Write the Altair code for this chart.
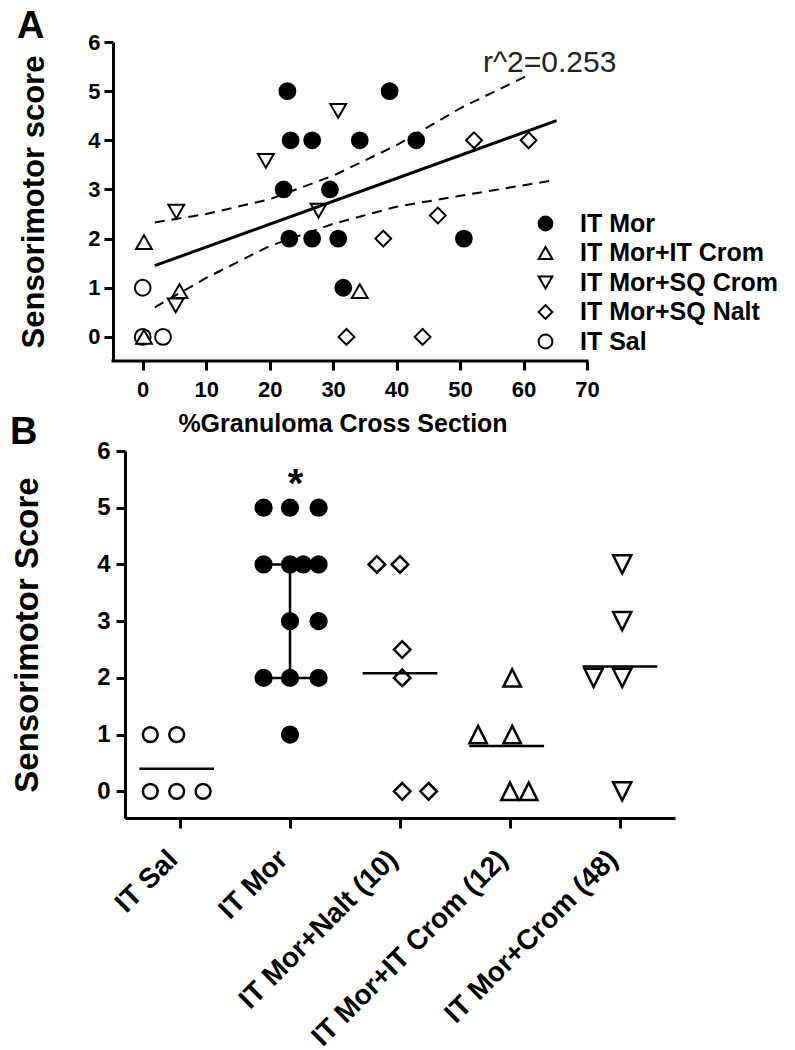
import json
import altair as alt
import pandas as pd

FONT = "Liberation Sans"

# ---------------- Panel A data (scatter) ----------------
groups_A = ["IT Mor", "IT Mor+IT Crom", "IT Mor+SQ Crom", "IT Mor+SQ Nalt", "IT Sal"]
shapes_A = ["circle", "triangle-up", "triangle-down", "diamond", "circle"]
fills_A = ["black", "white", "white", "white", "white"]
strokes_A = ["black", "black", "black", "black", "black"]

sal_x = [0.0, 0.0, 3.2]
sal_y = [1, 0, 0]
nalt_x = [37.9, 32.1, 52.2, 60.8, 46.5, 44.1]
nalt_y = [2, 0, 4, 4, 2.47, 0]
sqcrom_x = [19.4, 5.3, 30.8, 27.7, 5.2]
sqcrom_y = [3.58, 2.55, 4.6, 2.57, 0.64]
itcrom_x = [0.2, 0.2, 5.8, 34.2]
itcrom_y = [1.93, 0.0, 0.93, 0.93]
mor_x = [22.8, 38.9, 23.3, 26.7, 34.2, 43.1, 22.2, 29.5, 23.1, 26.7, 30.8, 50.6, 31.6]
mor_y = [5, 5, 4, 4, 4, 4, 3, 3, 2, 2, 2, 2, 1]

fit_x = [1.9, 65.2]
fit_y = [1.45, 4.4]
upper_x = [1.9, 10, 20, 30, 40, 50, 60.5]
upper_y = [2.33, 2.5, 2.8, 3.28, 3.9, 4.65, 5.31]
lower_x = [1.9, 10, 20, 30, 40, 50, 64.4]
lower_y = [0.6, 1.2, 1.85, 2.3, 2.65, 2.87, 3.18]
r2_label = "r^2=0.253"

xticks_A = [0, 10, 20, 30, 40, 50, 60, 70]
yticks = [0, 1, 2, 3, 4, 5, 6]

# ---------------- Panel B data (dot plot) ----------------
cats_B = ["IT Sal", "IT Mor", "IT Mor+Nalt (10)", "IT Mor+IT Crom (12)", "IT Mor+Crom (48)"]
shapes_B = ["circle", "circle", "diamond", "M0,-1L1,1L-1,1Z", "M-1,-1L1,-1L0,1Z"]
fills_B = ["white", "black", "white", "white", "white"]
sizes_B = [220, 330, 380, 600, 310]

b_sal_score = [0, 0, 0, 1, 1]
b_sal_dx = [-0.27, -0.03, 0.21, -0.27, -0.03]
b_mor_score = [5, 5, 5, 4, 4, 4, 4, 3, 3, 2, 2, 2, 1]
b_mor_dx = [-0.24, 0, 0.26, -0.24, 0, 0.12, 0.26, 0, 0.26, -0.24, 0, 0.26, 0]
b_nalt_score = [4, 4, 2.5, 2, 0, 0]
b_nalt_dx = [-0.21, 0, 0.02, 0.02, 0.02, 0.26]
b_itcrom_score = [2, 1, 1, 0, 0]
b_itcrom_dx = [0.02, -0.29, 0.02, 0, 0.17]
b_crom48_score = [4, 3, 2, 2, 0]
b_crom48_dx = [0.02, 0.02, -0.24, 0.02, 0.02]

mean_groups = [0, 2, 3, 4]
mean_values = [0.4, 2.08, 0.8, 2.2]
mean_dx = [-0.03, 0.0, -0.03, 0.0]
mor_q1, mor_q3 = 2, 4
star_group, star_y = 1.05, 5.19

# ---------------- build tables ----------------
rowsA = []
for g, xs, ys in [("IT Sal", sal_x, sal_y), ("IT Mor+SQ Nalt", nalt_x, nalt_y),
                  ("IT Mor+SQ Crom", sqcrom_x, sqcrom_y), ("IT Mor+IT Crom", itcrom_x, itcrom_y),
                  ("IT Mor", mor_x, mor_y)]:
    for xv, yv in zip(xs, ys):
        rowsA.append({"group": g, "pct": xv, "score": yv})
dfA = pd.DataFrame(rowsA)
df_fit = pd.DataFrame({"pct": fit_x, "score": fit_y})
df_band = pd.concat([
    pd.DataFrame({"pct": upper_x, "score": upper_y, "band": "upper"}),
    pd.DataFrame({"pct": lower_x, "score": lower_y, "band": "lower"}),
])

rowsB = []
for gi, sc, dx in [(0, b_sal_score, b_sal_dx), (1, b_mor_score, b_mor_dx), (2, b_nalt_score, b_nalt_dx),
                   (3, b_itcrom_score, b_itcrom_dx), (4, b_crom48_score, b_crom48_dx)]:
    for s, d in zip(sc, dx):
        rowsB.append({"cat": cats_B[gi], "pos": gi + d, "val": s})
dfB = pd.DataFrame(rowsB)
HALF_MEAN = 0.34
df_mean = pd.DataFrame({
    "x1": [g + d - HALF_MEAN for g, d in zip(mean_groups, mean_dx)],
    "x2": [g + d + HALF_MEAN for g, d in zip(mean_groups, mean_dx)],
    "val": mean_values,
})
df_whisk = pd.DataFrame({"pos": [1.0], "lo": [mor_q1], "hi": [mor_q3]})
HALF_CAP = 0.25
df_caps = pd.DataFrame({"x1": [1.01 - HALF_CAP] * 2, "x2": [1.01 + HALF_CAP] * 2, "val": [mor_q1, mor_q3]})

# ---------------- Panel A chart ----------------
W_A, H_A = 462, 319
xA = alt.Scale(domain=[-2.79, 70], nice=False, zero=False)
yA = alt.Scale(domain=[-0.49, 6], nice=False, zero=False)

axis_xA = alt.Axis(values=xticks_A, format="d", title="%Granuloma Cross Section", domain=False,
                   tickSize=9, labelFontSize=22, labelPadding=9,
                   titleFontSize=25, titleX=217.5, titleY=70, titleAlign="center",
                   titleBaseline="alphabetic")
axis_yA = alt.Axis(values=yticks, format="d", title="Sensorimotor score", offset=12,
                   tickSize=9, labelFontSize=22, labelPadding=4,
                   titleFontSize=31, titleX=-70, titleY=H_A / 2, titleAngle=270,
                   titleAlign="center", titleBaseline="alphabetic")

legA = alt.Legend(title=None, orient="none", legendX=408, legendY=169,
                  labelFont=FONT, labelFontSize=25, labelFontWeight="bold", labelColor="black",
                  labelLimit=0, symbolSize=190, symbolStrokeWidth=2, symbolStrokeColor="black",
                  rowPadding=3.5, labelOffset=22, padding=0)

ptsA = alt.Chart(dfA).mark_point(opacity=1, strokeWidth=2, size=250).encode(
    x=alt.X("pct:Q", scale=xA, axis=axis_xA),
    y=alt.Y("score:Q", scale=yA, axis=axis_yA),
    shape=alt.Shape("group:N", scale=alt.Scale(domain=groups_A, range=shapes_A), legend=legA),
    fill=alt.Fill("group:N", scale=alt.Scale(domain=groups_A, range=fills_A), legend=legA),
    stroke=alt.Stroke("group:N", scale=alt.Scale(domain=groups_A, range=strokes_A), legend=legA),
)
fitA = alt.Chart(df_fit).mark_line(color="black", strokeWidth=3).encode(
    x="pct:Q", y="score:Q")
bandA = alt.Chart(df_band).mark_line(color="black", strokeWidth=2, strokeDash=[10, 7]).encode(
    x="pct:Q", y="score:Q", detail="band:N")
xruleA = alt.Chart(pd.DataFrame({"a": [0]})).mark_rule(
    color="black", strokeWidth=3, strokeCap="square").encode(
    x=alt.datum(-4.68), x2=alt.datum(70), y=alt.value(H_A))
r2A = alt.Chart(pd.DataFrame({"t": [r2_label]})).mark_text(
    font=FONT, fontSize=30, align="left", baseline="alphabetic", color="#222222").encode(
    text="t:N", x=alt.value(358), y=alt.value(30))
letterA = alt.Chart(pd.DataFrame({"t": ["A"]})).mark_text(
    font=FONT, fontSize=38, fontWeight="bold", align="left", baseline="alphabetic", color="black").encode(
    text="t:N", x=alt.value(-108), y=alt.value(-4))

panelA = alt.layer(ptsA, fitA, bandA, xruleA, r2A, letterA).properties(width=W_A, height=H_A)

# ---------------- Panel B chart ----------------
W_B, H_B = 550, 367
xB = alt.Scale(domain=[-0.5, 4.5], nice=False, zero=False)
yB = alt.Scale(domain=[-0.47, 6], nice=False, zero=False)
label_expr = json.dumps(cats_B) + "[datum.value]"

axis_xB = alt.Axis(values=[0, 1, 2, 3, 4], labelExpr=label_expr, title=None,
                   tickSize=10, labelFontSize=28, labelAngle=-45, labelAlign="right",
                   labelBaseline="middle", labelPadding=27, labelOffset=-7, labelLimit=0)
axis_yB = alt.Axis(values=yticks, format="d", title="Sensorimotor Score",
                   tickSize=9, labelFontSize=24, labelPadding=6,
                   titleFontSize=33, titleX=-88, titleY=H_B / 2, titleAngle=270,
                   titleAlign="center", titleBaseline="alphabetic")

ptsB = alt.Chart(dfB).mark_point(opacity=1, stroke="black", strokeWidth=2.5).encode(
    x=alt.X("pos:Q", scale=xB, axis=axis_xB),
    y=alt.Y("val:Q", scale=yB, axis=axis_yB),
    shape=alt.Shape("cat:N", scale=alt.Scale(domain=cats_B, range=shapes_B), legend=None),
    fill=alt.Fill("cat:N", scale=alt.Scale(domain=cats_B, range=fills_B), legend=None),
    size=alt.Size("cat:N", scale=alt.Scale(domain=cats_B, range=sizes_B), legend=None),
)
meanB = alt.Chart(df_mean).mark_rule(color="black", strokeWidth=2.5).encode(
    x="x1:Q", x2="x2:Q", y="val:Q")
whiskB = alt.Chart(df_whisk).mark_rule(color="black", strokeWidth=2.5).encode(
    x="pos:Q", y="lo:Q", y2="hi:Q")
capsB = alt.Chart(df_caps).mark_rule(color="black", strokeWidth=2.5).encode(
    x="x1:Q", x2="x2:Q", y="val:Q")
starB = alt.Chart(pd.DataFrame({"t": ["*"], "pos": [star_group], "val": [star_y]})).mark_text(
    font=FONT, fontSize=40, fontWeight="bold", align="center", baseline="alphabetic", color="black").encode(
    text="t:N", x="pos:Q", y="val:Q")
letterB = alt.Chart(pd.DataFrame({"t": ["B"]})).mark_text(
    font=FONT, fontSize=38, fontWeight="bold", align="left", baseline="alphabetic", color="black").encode(
    text="t:N", x=alt.value(-115), y=alt.value(-7))

panelB = alt.layer(ptsB, meanB, whiskB, capsB, starB, letterB).properties(width=W_B, height=H_B)

chart = alt.vconcat(panelA, panelB, spacing=90, bounds="flush").resolve_scale(
    x="independent", y="independent", shape="independent", fill="independent",
    stroke="independent", size="independent"
).resolve_legend(shape="independent", fill="independent", stroke="independent", size="independent").properties(
    padding={"left": 2, "top": 0, "right": 5, "bottom": 5}
).configure_view(stroke=None).configure_axis(
    labelFont=FONT, titleFont=FONT, labelFontWeight="bold", titleFontWeight="bold",
    labelColor="black", titleColor="black", tickColor="black", domainColor="black",
    tickWidth=3, domainWidth=3, grid=False, labelFlush=False, labelOverlap=False,
)

chart.save("out.html", embed_options={"renderer": "svg", "actions": False})
